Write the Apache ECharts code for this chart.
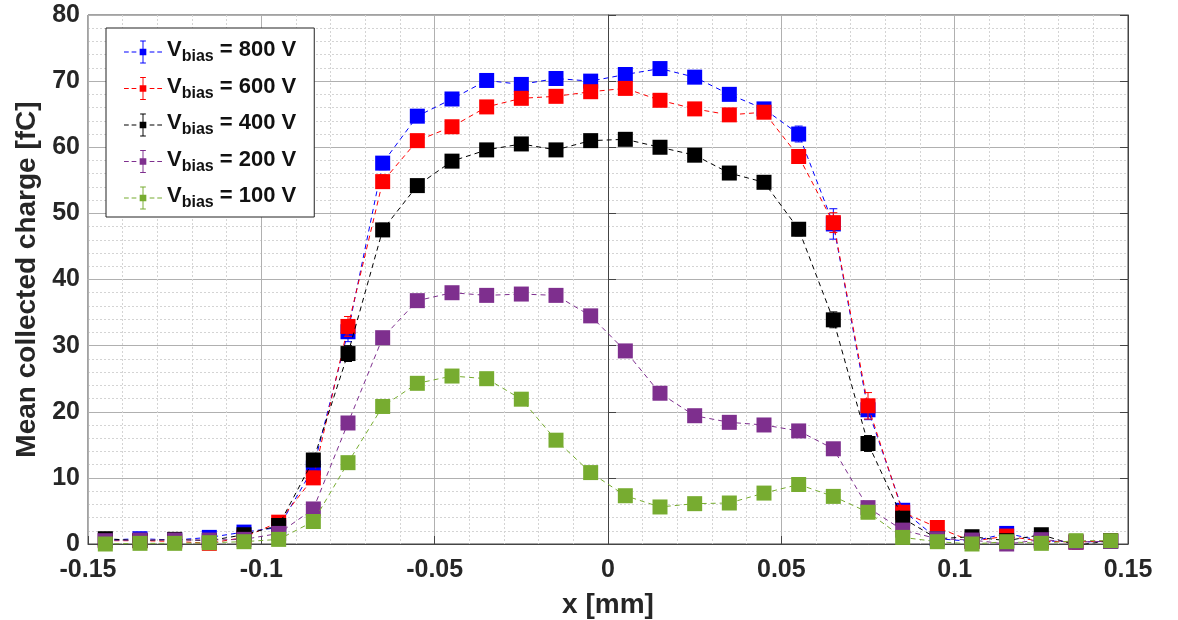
<!DOCTYPE html>
<html>
<head>
<meta charset="utf-8">
<script src="https://cdn.jsdelivr.net/npm/echarts@6/dist/echarts.min.js"></script>
<style>html,body{margin:0;padding:0;background:#fff}#c{width:1178px;height:620px}</style>
</head>
<body>
<div id="c"></div>
<script>
const xPos = [-0.145,-0.135,-0.125,-0.115,-0.105,-0.095,-0.085,-0.075,-0.065,-0.055,-0.045,-0.035,-0.025,-0.015,-0.005,0.005,0.015,0.025,0.035,0.045,0.055,0.065,0.075,0.085,0.095,0.105,0.115,0.125,0.135,0.145];
const v800 = [0.6,0.8,0.6,1.0,1.8,2.5,11.5,32.1,57.6,64.7,67.3,70.1,69.5,70.4,70.0,71.0,71.9,70.6,68.0,65.8,62.0,48.4,20.3,5.1,0.8,0.4,1.6,0.5,0.3,0.4];
const v600 = [0.5,0.5,0.4,0.1,1.0,3.3,10.0,32.9,54.8,61.0,63.1,66.1,67.4,67.7,68.4,68.9,67.1,65.8,64.9,65.3,58.6,48.6,20.9,4.8,2.5,0.4,1.2,0.4,0.3,0.5];
const v400 = [0.8,0.5,0.7,0.5,1.4,2.8,12.7,28.8,47.5,54.2,57.9,59.6,60.5,59.6,61.0,61.2,60.0,58.8,56.1,54.7,47.6,33.9,15.2,3.9,0.8,1.1,0.5,1.4,-0.2,0.5];
const v200 = [0.5,0.6,0.6,0.6,0.7,1.6,5.3,18.3,31.2,36.8,38.0,37.6,37.8,37.6,34.5,29.2,22.8,19.4,18.4,18.0,17.1,14.4,5.5,2.1,0.8,0.6,0.0,0.65,0.3,0.4];
const v100 = [0.0,0.1,0.1,0.2,0.35,0.7,3.4,12.3,20.8,24.3,25.4,25.0,21.9,15.7,10.8,7.3,5.6,6.1,6.2,7.7,9.0,7.2,4.8,1.0,0.35,0.0,0.35,0.1,0.5,0.5];
const e800 = [0.5,0.5,0.5,0.5,0.5,0.6,1.0,1.5,1.0,0.8,0.8,0.8,0.8,0.8,0.8,0.8,0.8,0.8,0.8,0.8,1.2,2.3,1.5,0.8,0.5,0.5,0.5,0.5,0.5,0.5];
const e600 = [0.5,0.5,0.5,0.5,0.5,0.6,1.0,1.5,1.0,0.8,0.8,0.8,0.8,0.8,0.8,0.8,0.8,0.8,0.8,0.8,1.0,1.5,2.0,0.8,0.5,0.5,0.5,0.5,0.5,0.5];
const e400 = [0.5,0.5,0.5,0.5,0.5,0.6,1.0,1.2,1.0,0.8,0.8,0.8,0.8,0.8,0.8,0.8,0.8,0.8,0.8,0.8,1.0,1.2,1.2,0.8,0.5,0.5,0.5,0.5,0.5,0.5];
const e200 = [0.4,0.4,0.4,0.4,0.4,0.4,0.6,0.8,0.8,0.8,0.8,0.8,0.8,0.8,0.8,0.8,0.8,0.8,0.8,0.8,0.8,0.8,0.8,0.5,0.4,0.4,0.4,0.4,0.4,0.4];
const e100 = [0.4,0.4,0.4,0.4,0.4,0.4,0.6,0.8,0.8,0.8,0.8,0.8,0.8,0.8,0.8,0.8,0.8,0.8,0.8,0.8,0.8,0.8,0.8,0.5,0.4,0.4,0.4,0.4,0.4,0.4];
const seriesNames = ['800','600','400','200','100'];
const seriesColors = ['#0000ff','#ff0000','#000000','#7e2f8e','#77ac30'];
const seriesValues = [v800,v600,v400,v200,v100];
const seriesErrors = [e800,e600,e400,e200,e100];
const xTicks = ['-0.15','-0.1','-0.05','0','0.05','0.1','0.15'];

const LEGEND_ICON = 'path://M0 12.5h5v1h-5z M8 12.5h5v1h-5z M27 12.5h5v1h-5z M35 12.5h5v1h-5z M16.5 9.5h7v7h-7z M19.5 1h1v24h-1z M17 1h6v1h-6z M17 24h6v1h-6z';

const chart = echarts.init(document.getElementById('c'));
const FONT = 'Liberation Sans';
const series = [];
seriesNames.forEach((n,i)=>{
  series.push({
    type:'custom', name:'err'+n, z:2+i*2,
    silent:true,
    data: xPos.map((x,k)=>[x, seriesValues[i][k]-seriesErrors[i][k], seriesValues[i][k]+seriesErrors[i][k]]),
    renderItem:(params,api)=>{
      const lo = api.coord([api.value(0), api.value(1)]);
      const hi = api.coord([api.value(0), api.value(2)]);
      const w = 4;
      const st = {stroke: seriesColors[i], lineWidth: 1};
      return {type:'group', children:[
        {type:'line', shape:{x1:lo[0],y1:lo[1],x2:hi[0],y2:hi[1]}, style:st},
        {type:'line', shape:{x1:lo[0]-w,y1:lo[1],x2:lo[0]+w,y2:lo[1]}, style:st},
        {type:'line', shape:{x1:hi[0]-w,y1:hi[1],x2:hi[0]+w,y2:hi[1]}, style:st}
      ]};
    }
  });
  series.push({
    type:'line', name:n, z:3+i*2,
    data: xPos.map((x,k)=>[x, seriesValues[i][k]]),
    symbol:'rect', symbolSize:15,
    itemStyle:{color:seriesColors[i]},
    lineStyle:{color:seriesColors[i], width:1, type:[5,4]},
    animation:false
  });
});

chart.setOption({
  animation:false,
  grid:{left:88, right:50, top:15, bottom:76, show:true, borderColor:'#444', borderWidth:1, backgroundColor:'#fff', containLabel:false, outerBoundsMode:'none'},
  legend:{
    data: seriesNames.map(n=>({name:n, icon:LEGEND_ICON})),
    orient:'vertical', left:106, top:28,
    padding:[9,18,6,18],
    itemGap:8.5, itemWidth:38, itemHeight:23,
    itemStyle:{borderWidth:0},
    backgroundColor:'#fff', borderColor:'#222', borderWidth:1,
    formatter: n => '{v|V}{s|bias}{v| = '+n+' V}',
    textStyle:{
      rich:{
        v:{fontFamily:FONT, fontWeight:'bold', fontSize:22, color:'#111', lineHeight:26, verticalAlign:'top'},
        s:{fontFamily:FONT, fontWeight:'bold', fontSize:16, color:'#111', lineHeight:26, verticalAlign:'bottom', padding:[12,0,0,0]}
      }
    }
  },
  xAxis:{
    type:'value', min:-0.15, max:0.15, interval:0.05,
    name:'x [mm]', nameLocation:'middle', nameGap:47,
    nameTextStyle:{fontFamily:FONT, fontWeight:'bold', fontSize:28, color:'#262626'},
    axisLine:{show:true, onZero:false, lineStyle:{color:'#444'}},
    axisTick:{show:true, inside:true, length:8, lineStyle:{color:'#444'}},
    axisLabel:{fontFamily:FONT, fontWeight:'bold', fontSize:25, color:'#262626', margin:14,
      formatter:(v)=>{const idx=Math.round((v+0.15)/0.05); return xTicks[idx]!==undefined?xTicks[idx]:'';}},
    splitLine:{show:true, lineStyle:{color:'#b0b0b0', width:1}},
    minorTick:{show:false, splitNumber:5},
    minorSplitLine:{show:true, lineStyle:{color:'#d4d4d4', width:1, type:[2,2]}}
  },
  yAxis:[{
    type:'value', min:0, max:80, interval:10,
    name:'Mean collected charge [fC]', nameLocation:'middle', nameGap:38,
    nameTextStyle:{fontFamily:FONT, fontWeight:'bold', fontSize:28, color:'#262626'},
    axisLine:{show:true, lineStyle:{color:'#444'}},
    axisTick:{show:true, inside:true, length:8, lineStyle:{color:'#444'}},
    axisLabel:{fontFamily:FONT, fontWeight:'bold', fontSize:25, color:'#262626', margin:8},
    splitLine:{show:true, lineStyle:{color:'#b0b0b0', width:1}},
    minorTick:{show:false, splitNumber:5},
    minorSplitLine:{show:true, lineStyle:{color:'#d4d4d4', width:1, type:[2,2]}}
  },{
    type:'value', min:0, max:80, interval:10, position:'right',
    axisLine:{show:true, lineStyle:{color:'#444'}},
    axisTick:{show:true, inside:true, length:8, lineStyle:{color:'#444'}},
    axisLabel:{show:false}, splitLine:{show:false}
  }],
  series: series
});
</script>
</body>
</html>
